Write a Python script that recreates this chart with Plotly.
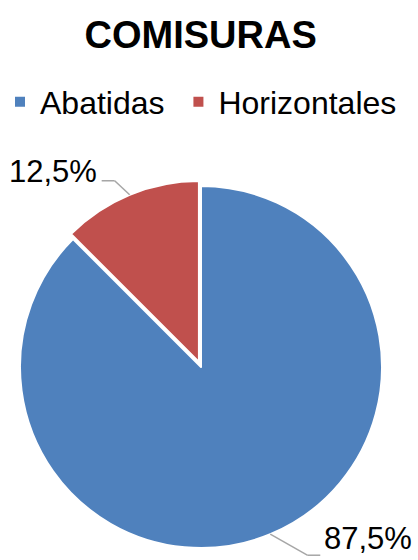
import numpy as np
import plotly.graph_objects as go

W, H = 418, 560

categories = ["Abatidas", "Horizontales"]
values = [87.5, 12.5]
text_labels = ["87,5%", "12,5%"]
colors = ["#4F81BD", "#C0504D"]
pulls = [0.0, 0.03]

FONT = "Arial, Liberation Sans, sans-serif"
LABEL_SIZE = 31

# pie placement in pixels
cx, cy, r = 201, 367, 181
half = r * (1 + max(pulls))

# a little non-breaking padding widens the gap between legend entries
legend_names = [c + "\u00a0" for c in categories[:-1]] + categories[-1:]

fig = go.Figure(
    go.Pie(
        labels=legend_names,
        values=values,
        marker=dict(colors=colors, line=dict(color="white", width=2)),
        sort=False,
        direction="clockwise",
        rotation=0,
        pull=pulls,
        textinfo="none",
        hoverinfo="label+percent",
        domain=dict(
            x=[(cx - half) / W, (cx + half) / W],
            y=[1 - (cy + half) / H, 1 - (cy - half) / H],
        ),
    )
)


def to_paper(px, py):
    return px / W, 1 - py / H


# leader lines + labels, positioned from slice mid-angles
# (elbow dx, elbow dy, horizontal run) in px
leader = {"Abatidas": (37, 21, 13), "Horizontales": (-15, -14, -13)}
total = sum(values)
start = 0.0
shapes, annotations = [], []
for cat, val, lab, pull in zip(categories, values, text_labels, pulls):
    frac = val / total
    mid = (start + frac / 2) * 2 * np.pi
    start += frac
    ux, uy = np.sin(mid), -np.cos(mid)
    ex = cx + ux * r * (1 + pull)
    ey = cy + uy * r * (1 + pull)
    dx, dy, hx = leader[cat]
    bx, by = ex + dx, ey + dy
    tx = bx + hx
    pts = [(ex, ey), (bx, by), (tx, by)]
    for (x0, y0), (x1, y1) in zip(pts[:-1], pts[1:]):
        p0, p1 = to_paper(x0, y0), to_paper(x1, y1)
        shapes.append(dict(type="line", xref="paper", yref="paper",
                           x0=p0[0], y0=p0[1], x1=p1[0], y1=p1[1],
                           line=dict(color="#A6A6A6", width=1.5)))
    right = hx > 0
    # keep the text box inside the figure
    ly = min(by - 9, H - LABEL_SIZE * 0.65 - 1)
    ax_, ay_ = to_paper(tx + (3 if right else -4), ly)
    annotations.append(dict(
        x=ax_, y=ay_, xref="paper", yref="paper", text=lab, showarrow=False,
        xanchor="left" if right else "right", yanchor="middle", borderpad=0,
        font=dict(family=FONT, size=LABEL_SIZE, color="black"),
    ))

fig.update_layout(
    width=W,
    height=H,
    margin=dict(l=0, r=0, t=0, b=0),
    paper_bgcolor="white",
    plot_bgcolor="white",
    title=dict(
        text="<b>COMISURAS</b>",
        x=0.48, xanchor="center",
        y=1 - 35 / H, yanchor="middle",
        font=dict(family=FONT, size=38, color="black"),
    ),
    legend=dict(
        orientation="h",
        x=0.0, xanchor="left",
        y=1 - 102 / H, yanchor="middle",
        font=dict(family=FONT, size=32, color="black"),
        itemclick=False,
        bgcolor="rgba(0,0,0,0)",
    ),
    shapes=shapes,
    annotations=annotations,
)

fig.write_html("out.html", config={"displayModeBar": False},
               post_script="document.body.style.margin='0';")
